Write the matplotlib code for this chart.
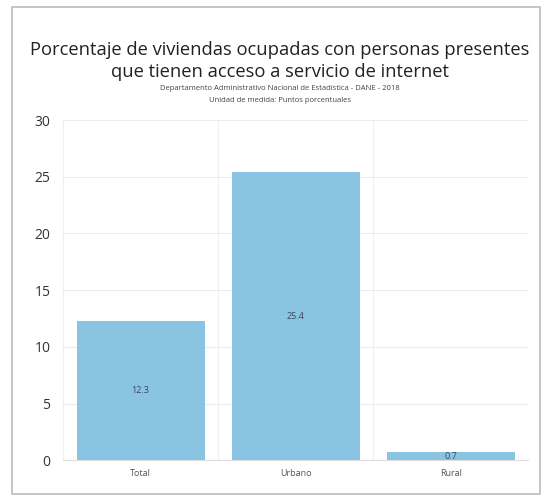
import matplotlib

matplotlib.use("Agg")
import matplotlib.pyplot as plt
import numpy as np
from matplotlib.patches import Rectangle

categories = ["Total", "Urbano", "Rural"]
values = [12.3, 25.4, 0.7]
value_labels = ["12.3", "25.4", "0.7"]
y_ticks = [0, 5, 10, 15, 20, 25, 30]

title = "Porcentaje de viviendas ocupadas con personas presentes\nque tienen acceso a servicio de internet"
subtitle = "Departamento Administrativo Nacional de Estadística - DANE - 2018"
unit_note = "Unidad de medida: Puntos porcentuales"

plt.rcParams["font.family"] = ["Open Sans", "DejaVu Sans"]

fig = plt.figure(figsize=(5.48, 4.96), dpi=100)
axis = fig.add_axes([0.115, 0.072, 0.849, 0.686])

x = np.arange(len(categories))
bars = axis.bar(x, values, width=0.825, color="#89c4e3", zorder=2)
axis.bar_label(bars, labels=value_labels, label_type="center",
               fontsize=6.5, color="#3a4a5a")

axis.set_xlim(-0.5, len(categories) - 0.5)
axis.set_ylim(0, 30)
axis.set_yticks(y_ticks)
axis.set_xticks(x, categories)
axis.tick_params(axis="y", length=0, labelsize=10, colors="#333333", pad=9)
axis.tick_params(axis="x", length=0, labelsize=6.5, colors="#555555", pad=6)
axis.grid(axis="y", color="#ececec", linewidth=0.8, zorder=0)
for boundary in (-0.5, 0.5, 1.5, 2.5):
    axis.axvline(boundary, color="#f0f0f0", linewidth=0.8, zorder=0)
for side in ("top", "right", "left"):
    axis.spines[side].set_visible(False)
axis.spines["bottom"].set_color("#dddddd")

fig.text(0.511, 0.877, title, ha="center", va="center", fontsize=13.2,
         color="#222222", linespacing=1.3)
fig.text(0.511, 0.822, subtitle, ha="center", va="center", fontsize=5.5,
         color="#444444")
fig.text(0.511, 0.797, unit_note, ha="center", va="center", fontsize=5.5,
         color="#444444")

fig.patches.append(Rectangle((0.022, 0.004), 0.963, 0.982, transform=fig.transFigure,
                             fill=False, edgecolor="#bbbbbb", linewidth=1.2))

fig.savefig("out.png", dpi=100)
